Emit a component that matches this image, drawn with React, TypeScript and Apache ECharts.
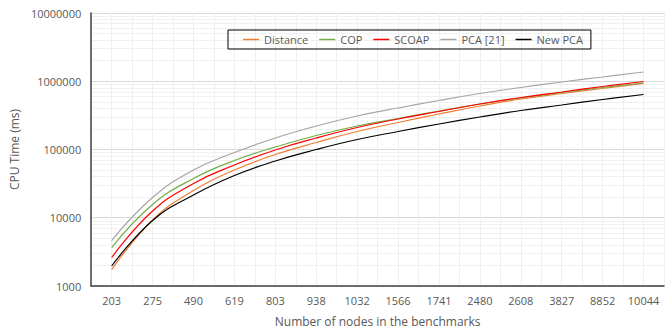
import React, { useEffect, useRef } from "react";
import * as echarts from "echarts";

const categories = ["203", "275", "490", "619", "803", "938", "1032", "1566", "1741", "2480", "2608", "3827", "8852", "10044"];

const distance = [1733, 9268, 25080, 50070, 84470, 126600, 183500, 248700, 331300, 434000, 549500, 661300, 783000, 926800];
const cop = [3665, 15640, 37600, 69000, 108800, 160400, 221000, 284600, 366500, 464200, 568300, 684100, 809800, 942800];
const scoap = [2616, 12560, 31760, 59280, 98330, 147400, 210000, 279800, 360400, 464200, 578000, 695800, 837800, 991500];
const pca21 = [4640, 19800, 50070, 90360, 147400, 221000, 309600, 405700, 522300, 661300, 809800, 975000, 1154000, 1366000];
const newPca = [1963, 9114, 21540, 41590, 67850, 100000, 140100, 183500, 236300, 299400, 372700, 448700, 540300, 639400];

const seriesNames = ["Distance", "COP", "SCOAP", "PCA [21]", "New PCA"];
const seriesColors = ["#ED7D31", "#70AD47", "#FF0000", "#A5A5A5", "#000000"];
const seriesData = [distance, cop, scoap, pca21, newPca];

const FONT = "'Open Sans', 'Noto Sans', sans-serif";

export default function App() {
  const ref = useRef<HTMLDivElement>(null);
  useEffect(() => {
    if (!ref.current) return;
    const chart = echarts.init(ref.current, undefined, { renderer: "svg" });
    chart.setOption({
      animation: false,
      backgroundColor: "#ffffff",
      textStyle: { fontFamily: FONT },
      grid: { left: 87, right: -4, top: 13, bottom: 49, containLabel: false },
      legend: {
        left: 228,
        top: 30,
        orient: "horizontal",
        borderColor: "#000000",
        borderWidth: 1,
        padding: [2, 8, 2, 15],
        itemGap: 11,
        itemWidth: 16,
        itemHeight: 1.5,
        icon: "rect",
        textStyle: { color: "#595959", fontSize: 11, fontFamily: FONT, lineHeight: 15 },
        data: seriesNames,
      },
      xAxis: {
        type: "value",
        min: -0.5,
        max: 13.5,
        interval: 0.5,
        name: "Number of nodes in the benchmarks",
        nameLocation: "middle",
        nameGap: 29,
        nameTextStyle: { color: "#595959", fontSize: 12, fontFamily: FONT },
        axisLine: { show: true, onZero: false, lineStyle: { color: "#404040", width: 1.5 } },
        axisTick: { show: false },
        axisLabel: {
          color: "#595959",
          fontSize: 11,
          fontFamily: FONT,
          margin: 9,
          showMinLabel: true,
          showMaxLabel: true,
          formatter: (v: number) => (Number.isInteger(v) && v >= 0 && v < categories.length ? categories[v] : ""),
        },
        splitLine: { show: true, lineStyle: { color: "#efefef", width: 1 } },
      },
      yAxis: {
        type: "log",
        logBase: 10,
        min: 1000,
        max: 10000000,
        name: "CPU Time (ms)",
        nameLocation: "middle",
        nameGap: 66,
        nameTextStyle: { color: "#595959", fontSize: 12, fontFamily: FONT },
        axisLine: { show: true, onZero: false, lineStyle: { color: "#404040", width: 1.5 } },
        axisTick: { show: false },
        axisLabel: {
          color: "#595959",
          fontSize: 11,
          fontFamily: FONT,
          margin: 10,
          formatter: (v: number) => String(Math.round(v)),
        },
        splitLine: { show: true, lineStyle: { color: "#d9d9d9", width: 1 } },
        minorTick: { show: false, splitNumber: 9 },
        minorSplitLine: { show: true, lineStyle: { color: "#f0f0f0", width: 1 } },
      },
      series: seriesNames.map((name, si) => ({
        name,
        type: "line",
        smooth: 0.45,
        symbol: "none",
        showSymbol: false,
        color: seriesColors[si],
        lineStyle: { color: seriesColors[si], width: 1.2 },
        z: 2 + si,
        data: categories.map((_, i) => [i, seriesData[si][i]]),
      })),
    });
    return () => chart.dispose();
  }, []);
  return (
    <div
      ref={ref}
      style={{ position: "fixed", left: 0, top: 0, width: 667, height: 335, background: "#ffffff" }}
    />
  );
}
